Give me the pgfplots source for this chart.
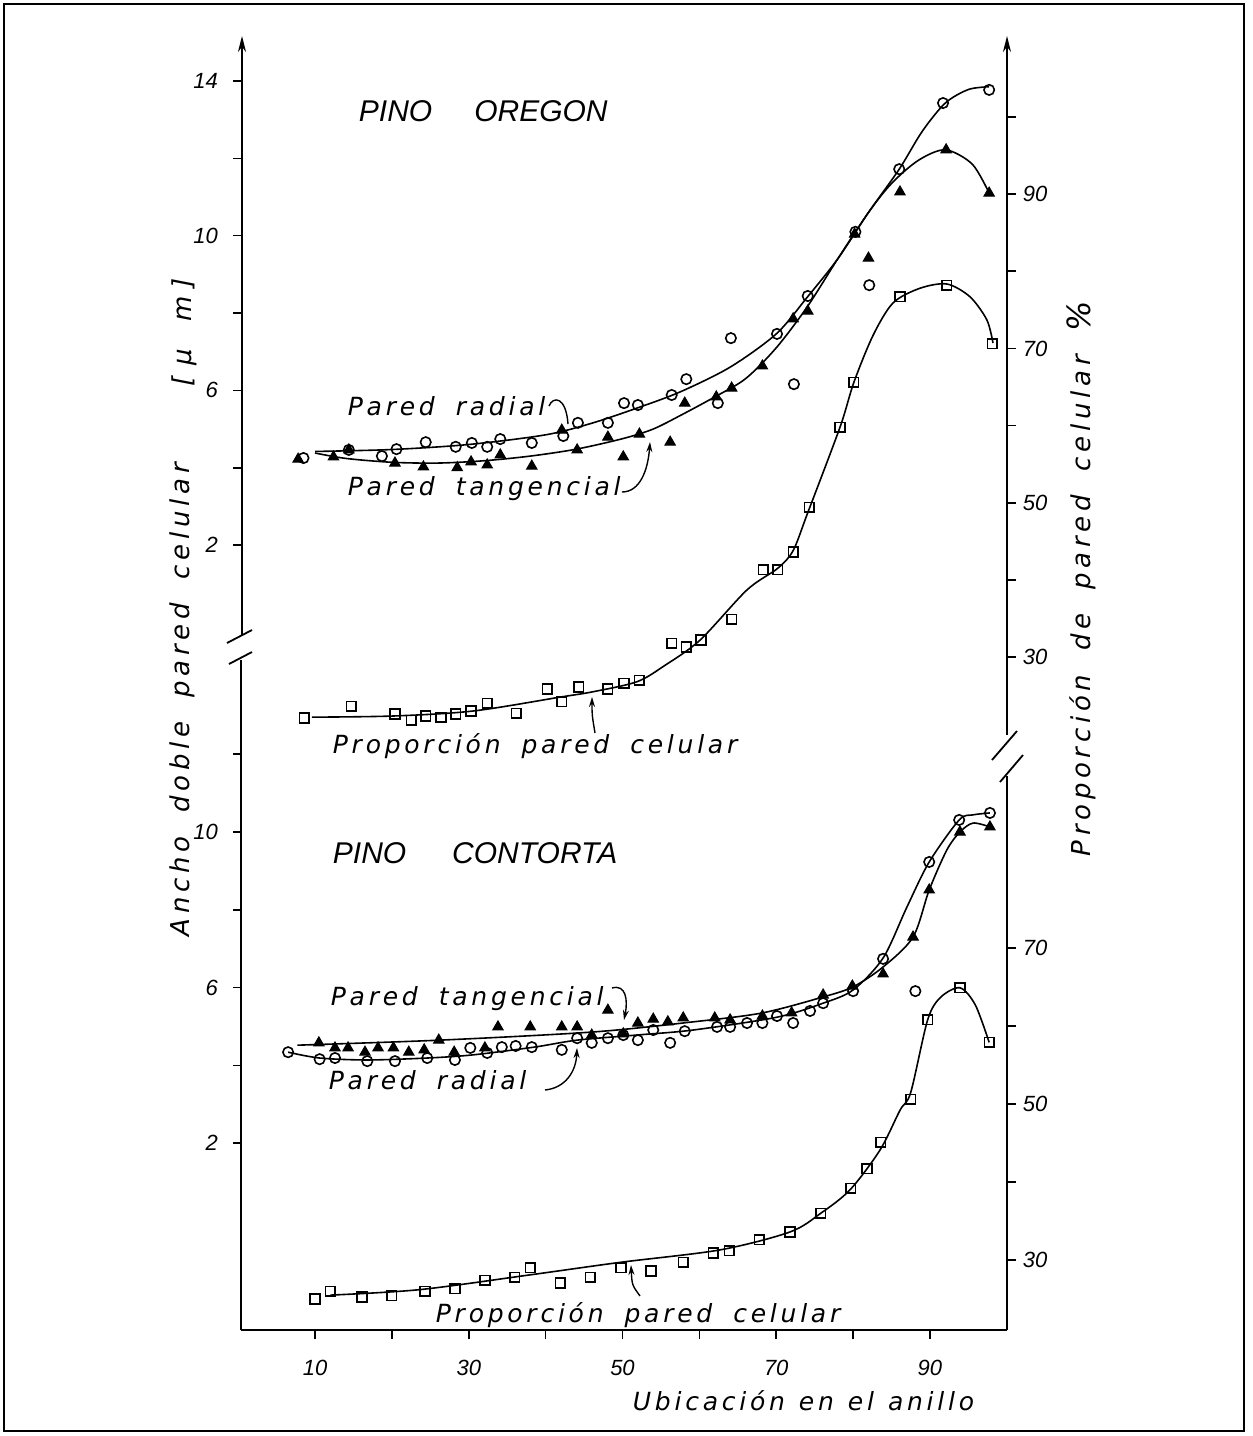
\documentclass[border=0pt]{standalone}
\usepackage{fontspec}
\setmainfont{Liberation Sans}
\newfontfamily\labfont{DejaVu Sans}[LetterSpace=15]
\newfontfamily\axfont{DejaVu Sans}[LetterSpace=18]
\usepackage{pgfplots}
\pgfplotsset{compat=1.18}
\usetikzlibrary{arrows.meta}

\newcommand{\tickfont}{\fontsize{11}{13}\selectfont\itshape}
\newcommand{\lab}{\fontsize{12.5}{14}\selectfont\labfont\itshape}
\newcommand{\axlab}{\fontsize{13}{15}\selectfont\axfont\itshape}
\newcommand{\ttl}{\fontsize{15}{18}\selectfont\itshape}
\newcommand{\ws}{\hspace{10.5pt}}
\newcommand{\aws}{\hspace{12pt}}

\pgfplotsset{
  base/.style={
    scale only axis, width=382.42pt, height=645pt,
    xmin=0.5, xmax=100,
    at={(121pt,-665pt)}, anchor=south west,
    axis line style={draw=none},
    tick align=outside,
    major tick length=4.5pt,
    every tick/.style={black, line width=0.8pt},
    ticklabel style={font=\tickfont},
    xticklabel style={yshift=-7pt},
    /pgf/number format/assume math mode=true,
    clip=false,
    every axis plot/.append style={line width=0.8pt, black},
  },
  lefty/.style={axis x line*=bottom, axis y line*=left, yticklabel style={xshift=-4pt}},
  righty/.style={axis x line*=bottom, axis y line*=right},
  radial/.style={only marks, mark=o, mark size=2.6pt, mark options={line width=0.8pt, fill=white}},
  tang/.style={only marks, mark=triangle*, mark size=3pt, mark options={fill=black, line width=0.5pt}},
  sq/.style={only marks, mark=square, mark size=2.4pt, mark options={line width=0.8pt, fill=white}},
  fit/.style={smooth, no marks, line width=0.8pt},
}

\begin{document}
\begin{tikzpicture}
% ---------------- upper panel, micrometres (left scale)
\begin{axis}[base, lefty,
  ymin=-18.299, ymax=15.060,
  xtick={10,20,...,90}, xticklabels={10,,30,,50,,70,,90},
  ytick={2,4,...,14}, yticklabels={2,,6,,10,,14}]
\addplot[fit] coordinates {(10,4.42) (20,4.47) (30,4.6) (40,4.85) (46,5.15) (52,5.55) (57.5,5.96) (64,6.6) (70,7.46) (74,8.4) (78,9.4) (82,10.6) (86,11.72) (89,12.7) (92,13.43) (95,13.78) (97.7,13.85)};
\addplot[fit] coordinates {(10,4.38) (14,4.24) (20,4.14) (26,4.12) (32,4.18) (38,4.3) (44,4.48) (50,4.75) (54,5.0) (58,5.4) (62,5.83) (66,6.3) (70,7.1) (74,8.15) (78,9.4) (82,10.6) (85,11.35) (88.5,11.95) (92,12.22) (95.5,11.85) (97.7,11.1)};
\addplot[radial] table {
8.5 4.25
14.4 4.46
18.7 4.30
20.6 4.48
24.4 4.66
28.3 4.54
30.4 4.64
32.4 4.54
34.1 4.74
38.2 4.64
42.3 4.82
44.2 5.16
48.1 5.16
50.2 5.67
52.0 5.62
56.4 5.88
58.3 6.29
62.4 5.67
64.1 7.35
70.1 7.46
72.3 6.16
74.1 8.44
80.3 10.10
82.1 8.72
86.0 11.72
91.7 13.43
97.7 13.77
};
\addplot[tang] table {
7.8 4.22
12.4 4.28
14.4 4.46
20.4 4.12
24.1 4.02
28.5 4.00
30.3 4.15
32.4 4.07
34.1 4.33
38.2 4.04
42.1 4.97
44.1 4.46
48.1 4.79
50.1 4.28
52.2 4.87
56.2 4.66
58.1 5.67
62.2 5.83
64.2 6.06
68.2 6.63
72.2 7.85
74.1 8.05
80.2 10.04
82.0 9.42
86.1 11.13
92.1 12.22
97.7 11.10
};
\end{axis}
% ---------------- upper panel, percent (right scale)
\begin{axis}[base, righty,
  ymin=-57.247, ymax=109.982, xtick=\empty,
  ytick={30,40,...,100}, yticklabels={30,,50,,70,,90,}]
\addplot[fit] coordinates {(9.6,22.2) (20.2,22.35) (30.6,23.0) (41.9,24.8) (46.2,25.5) (51.9,26.8) (55.5,28.9) (60.1,32.2) (66.2,38.7) (70.2,41.5) (72.2,43.8) (74.1,48.7) (78.3,59.8) (80.1,65.6) (82.6,71.7) (85.2,75.9) (88.7,77.8) (92.2,78.35) (95.2,76.7) (97.4,73.7) (98.2,70.7)};
\addplot[sq] table {
8.6 22.1
14.7 23.6
20.4 22.6
22.5 21.8
24.4 22.35
26.4 22.2
28.3 22.6
30.3 23.0
32.4 24.0
36.2 22.7
40.2 25.85
42.1 24.2
44.3 26.1
48.1 25.85
50.2 26.6
52.2 27.0
56.4 31.8
58.3 31.3
60.2 32.2
64.2 34.9
68.3 41.3
70.2 41.3
72.2 43.6
74.3 49.4
78.3 59.8
80.1 65.6
86.1 76.7
92.2 78.2
98.1 70.6
};
\end{axis}
% ---------------- lower panel, micrometres (left scale)
\begin{axis}[base, lefty,
  ymin=-2.802, ymax=30.360, xtick=\empty,
  ytick={2,4,...,12}, yticklabels={2,,6,,10,}]
\addplot[fit] coordinates {(6.5,4.34) (10.6,4.19) (16.8,4.14) (24.6,4.19) (30.5,4.27) (38.5,4.47) (44.1,4.65) (51.8,4.78) (59.2,4.91) (70.1,5.24) (76.1,5.6) (80,5.94) (83.9,6.76) (87,8.07) (89.9,9.23) (93.8,10.31) (95.6,10.44) (97.8,10.49)};
\addplot[fit] coordinates {(7.7,4.52) (26.3,4.65) (46.2,4.86) (59.2,5.12) (68.2,5.35) (76.1,5.76) (80,6.02) (83.9,6.53) (87.8,7.30) (89.9,8.51) (92.2,9.54) (93.9,10.0) (95.6,10.23) (97.8,10.13)};
\addplot[radial] table {
6.5 4.34
10.6 4.16
12.6 4.19
16.8 4.11
20.4 4.11
24.6 4.19
28.2 4.14
30.2 4.45
32.4 4.32
34.3 4.47
36.1 4.50
38.2 4.47
42.1 4.40
44.1 4.70
46.0 4.58
48.1 4.70
50.1 4.78
52.0 4.65
54.0 4.91
56.2 4.58
58.1 4.88
62.3 4.99
64.0 4.99
66.2 5.09
68.2 5.09
70.1 5.27
72.2 5.09
74.4 5.40
76.1 5.60
80.0 5.91
83.9 6.74
88.1 5.91
89.9 9.23
93.8 10.31
97.8 10.49
};
\addplot[tang] table {
10.5 4.58
12.6 4.45
14.3 4.45
16.5 4.34
18.2 4.45
20.2 4.45
22.2 4.34
24.2 4.40
26.1 4.65
28.1 4.34
32.1 4.45
33.8 4.99
38.0 4.99
42.1 4.99
44.1 4.99
46.0 4.78
48.1 5.42
50.1 4.81
52.0 5.09
54.0 5.19
55.9 5.12
57.9 5.22
62.0 5.22
64.0 5.17
68.2 5.27
72.0 5.35
76.1 5.81
79.9 6.04
83.9 6.35
87.8 7.30
89.9 8.51
93.9 10.00
97.8 10.13
};
\end{axis}
% ---------------- lower panel, percent (right scale)
\begin{axis}[base, righty,
  ymin=21.026, ymax=186.41, xtick=\empty,
  ytick={30,40,...,70}, yticklabels={30,,50,,70}]
\addplot[fit] coordinates {(12,25.5) (23.6,26.2) (38,28.1) (49.7,29.7) (62.7,31.3) (71.8,33.6) (75.8,36.0) (79.6,39.0) (83.5,44.1) (86.1,49.2) (87.5,51.5) (89.7,60.8) (91.4,63.7) (93.9,64.9) (95.9,62.7) (97.7,57.9)};
\addplot[sq] table {
10.0 25.0
12.0 26.0
16.1 25.26
20.0 25.4
24.3 26.0
28.2 26.3
32.1 27.4
36.0 27.8
38.0 29.0
41.9 27.05
45.8 27.8
49.8 29.0
53.7 28.6
57.9 29.7
61.8 30.9
63.9 31.2
67.8 32.6
71.8 33.6
75.8 36.0
79.7 39.2
81.8 41.7
83.6 45.1
87.5 50.6
89.7 60.8
93.9 64.9
97.7 57.9
};
\end{axis}
% ---------------- axis lines, breaks, frame and texts
\begin{scope}[x=0.5pt, y=-0.5pt, line width=0.9pt]
\draw[-{Stealth[length=8pt,width=4pt]}] (242,636) -- (242,36);
\draw (252,630) -- (227,643);
\draw (252,652) -- (229,664);
\draw (241,660) -- (241,1330);
\draw[-{Stealth[length=8pt,width=4pt]}] (1007,735) -- (1007,36);
\draw (1017,731) -- (992,760);
\draw (1023,755) -- (1000,782);
\draw (1007,776) -- (1007,1330);
\draw (240.6,1330) -- (1007.4,1330);
\draw[line width=1pt] (4,4) rectangle (1244,1431);
% labels
\node[anchor=base west, inner sep=0] at (358,121) {\ttl PINO\hspace{21pt}OREGON};
\node[anchor=base west, inner sep=0] at (332,863) {\ttl PINO\hspace{23pt}CONTORTA};
\node[anchor=base west, inner sep=0] at (347,415) {\lab Pared\ws radial};
\node[anchor=base west, inner sep=0] at (347,495) {\lab Pared\ws tangencial};
\node[anchor=base west, inner sep=0] at (332,753) {\lab Proporción\ws pared\ws celular};
\node[anchor=base west, inner sep=0] at (330,1005) {\lab Pared\ws tangencial};
\node[anchor=base west, inner sep=0] at (328,1089) {\lab Pared\ws radial};
\node[anchor=base west, inner sep=0] at (435,1322) {\lab Proporción\ws pared\ws celular};
\node[anchor=base west, inner sep=0] at (632,1410) {\lab Ubicación\hspace{7pt}en\hspace{7pt}el\hspace{7pt}anillo};
\node[anchor=base west, inner sep=0, rotate=90] at (189,937) {\axlab Ancho\aws doble\aws pared\aws celular};
\node[anchor=base west, inner sep=0, rotate=90] at (191,387) {\axlab [\hspace{5pt}µ\hspace{14pt}m\hspace{4pt}]};
\node[anchor=base west, inner sep=0, rotate=90] at (1090,857) {\axlab Proporción\aws de\aws pared\aws celular\aws {\fontsize{16}{17}\selectfont\%}};
% pointer arrows
\draw[line width=0.7pt] (549,406) .. controls (553,396) and (566,396) .. (568,424);
\draw[line width=0.7pt, -{Stealth[length=5pt,width=3pt]}] (622,492) .. controls (640,492) and (648,470) .. (650,442);
\draw[line width=0.7pt, -{Stealth[length=5pt,width=3pt]}] (595,733) .. controls (592,715) .. (592,697);
\draw[line width=0.7pt, -{Stealth[length=5pt,width=3pt]}] (612,988) .. controls (626,984) and (628,1000) .. (624,1020);
\draw[line width=0.7pt, -{Stealth[length=5pt,width=3pt]}] (545,1090) .. controls (565,1088) and (576,1072) .. (577,1048);
\draw[line width=0.7pt, -{Stealth[length=5pt,width=3pt]}] (640,1296) .. controls (632,1285) .. (631,1265);
\pgfresetboundingbox
\path (0,0) rectangle (1253,1436);
\end{scope}
\end{tikzpicture}
\end{document}
